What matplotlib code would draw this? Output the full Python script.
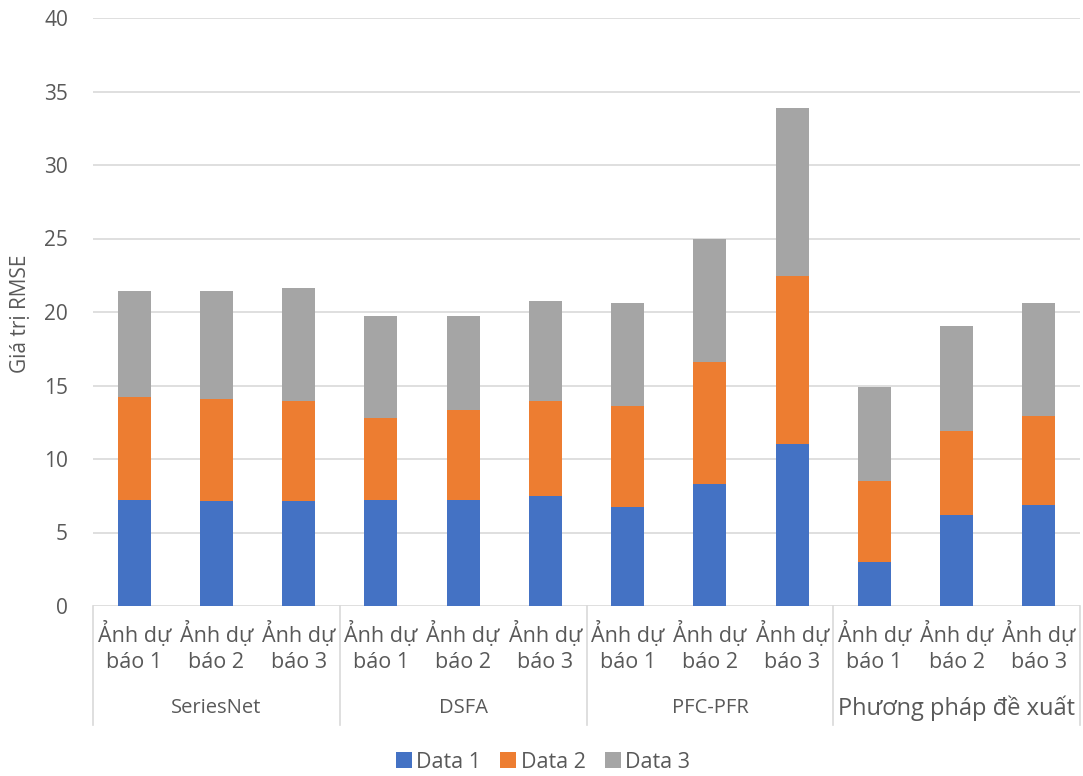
import matplotlib.pyplot as plt
from matplotlib.patches import Patch

plt.rcParams['font.family'] = ['Open Sans', 'DejaVu Sans']

# Nhóm phương pháp và nhãn ảnh dự báo
groups = ["SeriesNet", "DSFA", "PFC-PFR", "Phương pháp đề xuất"]
images = ["Ảnh dự\nbáo 1", "Ảnh dự\nbáo 2", "Ảnh dự\nbáo 3"]

# Giá trị RMSE của từng thành phần (xếp chồng)
data1 = [7.24, 7.12, 7.12, 7.21, 7.21, 7.46, 6.74, 8.31, 11.03, 3.00, 6.18, 6.89]
data2 = [6.98, 6.97, 6.81, 5.60, 6.15, 6.47, 6.85, 8.26, 11.44, 5.50, 5.75, 6.01]
data3 = [7.24, 7.37, 7.67, 6.94, 6.39, 6.82, 7.02, 8.43, 11.43, 6.40, 7.13, 7.73]
series_names = ["Data 1", "Data 2", "Data 3"]
colors = ["#4472C4", "#ED7D31", "#A5A5A5"]
text_color = "#595959"
grid_color = "#D9D9D9"

W, H = 1083, 776
fig = plt.figure(figsize=(W / 100, H / 100), dpi=100)
ax = fig.add_axes([93 / W, 1 - 606 / H, (1080 - 93) / W, (606 - 18) / H])

labels = images * len(groups)
x = list(range(len(labels)))
bottom2 = [a + b for a, b in zip(data1, data2)]
ax.bar(x, data1, width=0.4, color=colors[0], zorder=3)
ax.bar(x, data2, width=0.4, bottom=data1, color=colors[1], zorder=3)
ax.bar(x, data3, width=0.4, bottom=bottom2, color=colors[2], zorder=3)

ax.set_xlim(-0.5, len(labels) - 0.5)
ax.set_ylim(0, 40)
ax.set_yticks(range(0, 41, 5))
ax.grid(axis='y', color=grid_color, linewidth=1.2, zorder=0)
for s in ax.spines.values():
    s.set_visible(False)

ax.tick_params(axis='y', length=0, pad=18, labelsize=15, labelcolor=text_color)
ax.set_xticks(x)
ax.set_xticklabels(labels, fontsize=15.5, color=text_color, linespacing=1.3)
ax.tick_params(axis='x', length=0, pad=11)

# đường phân cách giữa các nhóm
tr = ax.get_xaxis_transform()
axh = 606 - 18
for sep in [-0.5, 2.5, 5.5, 8.5, 11.5]:
    ax.plot([sep, sep], [0, -(725 - 606) / axh], color=grid_color,
            linewidth=1.2, transform=tr, clip_on=False)

for i, g in enumerate(groups):
    fs = 17 if i == 3 else 14.5
    ax.text(3 * i + 1, -(708 - 606) / axh, g, transform=tr, ha='center',
            va='center', fontsize=fs, color=text_color)

fig.text(21 / W, 1 - 314 / H, "Giá trị RMSE", rotation=90, ha='center',
         va='center', fontsize=15, color=text_color)

handles = [Patch(facecolor=c, label=n) for c, n in zip(colors, series_names)]
leg = fig.legend(handles=handles, ncol=3, loc='center',
                 bbox_to_anchor=(543 / W, 1 - 762 / H), frameon=False,
                 fontsize=15.5, handlelength=0.75, handleheight=0.75,
                 handletextpad=0.2, columnspacing=0.9)
for t in leg.get_texts():
    t.set_color(text_color)

fig.savefig("out.png", dpi=100)
